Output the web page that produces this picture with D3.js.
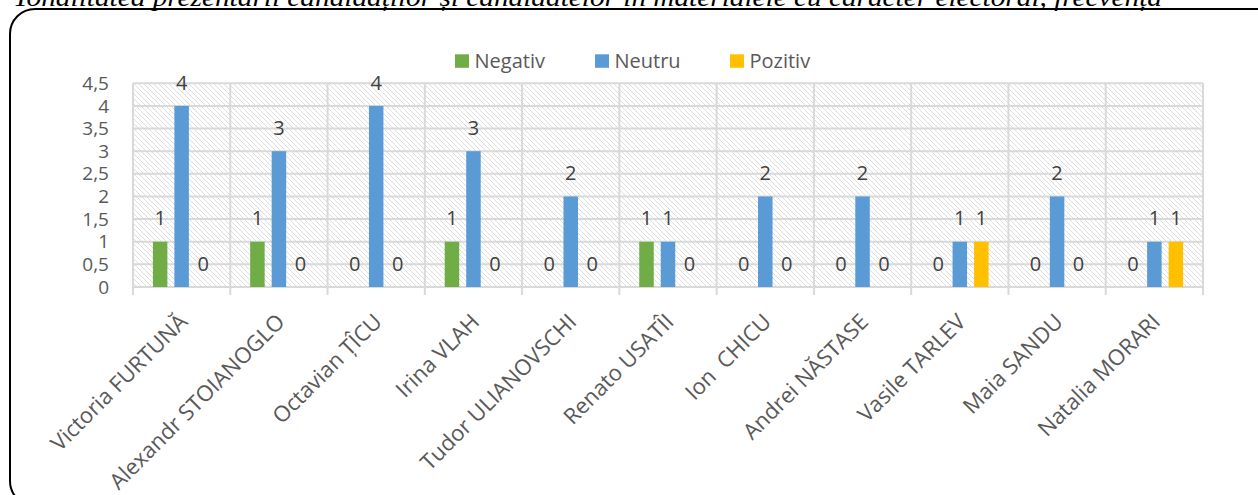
<!DOCTYPE html>
<html><head><meta charset="utf-8">
<script src="https://cdn.jsdelivr.net/npm/d3@7"></script>
<style>html,body{margin:0;padding:0;background:#fff;overflow:hidden}</style>
</head><body>
<svg id="c" width="1258" height="495"></svg>
<script>
const titleText = "Tonalitatea prezentării candidaților și candidatelor în materialele cu caracter electoral, frecvența";
const categories = ["Victoria FURTUNĂ","Alexandr STOIANOGLO","Octavian ȚÎCU","Irina VLAH","Tudor ULIANOVSCHI","Renato USATÎI","Ion  CHICU","Andrei NĂSTASE","Vasile TARLEV","Maia SANDU","Natalia MORARI"];
const seriesNames = ["Negativ","Neutru","Pozitiv"];
const negativ = [1,1,0,1,0,1,0,0,0,0,0];
const neutru  = [4,3,4,3,2,1,2,2,1,2,1];
const pozitiv = [0,0,0,0,0,0,0,0,1,0,1];
const yTicks = [0,0.5,1,1.5,2,2.5,3,3.5,4,4.5];
const colors = ["#70AD47","#5B9BD5","#FFC000"];

const seriesValues = [negativ, neutru, pozitiv];
const svg = d3.select("#c");
const L = 133, R = 1203, T = 83.3, B = 287;

// hatch pattern
const defs = svg.append("defs");
const pat = defs.append("pattern").attr("id","hatch").attr("patternUnits","userSpaceOnUse")
  .attr("width",5).attr("height",5);
pat.append("rect").attr("width",5).attr("height",5).attr("fill","#fff");
pat.append("path").attr("d","M-1,-1 L6,6 M-1,4 L1,6 M4,-1 L6,1")
  .attr("stroke","#dedede").attr("stroke-width",1);

// frame
svg.append("rect").attr("x",10).attr("y",9).attr("width",1275).attr("height",497)
  .attr("rx",25).attr("ry",25).attr("fill","none").attr("stroke","#000").attr("stroke-width",2);

// title (cropped at top, as in the reference)
svg.append("text").attr("x",13).attr("y",6).attr("textLength",1149).attr("lengthAdjust","spacingAndGlyphs")
  .attr("font-family","'Liberation Serif', serif").attr("font-style","italic").attr("font-size",25)
  .attr("fill","#000").text(titleText);

const x0 = d3.scaleBand().domain(categories).range([L,R]).padding(0);
const x1 = d3.scaleBand().domain(seriesNames).range([0,x0.bandwidth()]).paddingInner(0.3256).paddingOuter(0.925);
const y = d3.scaleLinear().domain([0,4.5]).range([B,T]);

// plot background
svg.append("rect").attr("x",L).attr("y",T).attr("width",R-L).attr("height",B-T).attr("fill","url(#hatch)");

// horizontal gridlines
svg.append("g").selectAll("line").data(yTicks).join("line")
  .attr("x1",L).attr("x2",R).attr("y1",d=>y(d)).attr("y2",d=>y(d))
  .attr("stroke","#d9d9d9").attr("stroke-width",2);

// vertical category lines + ticks
const bounds = categories.map(c=>x0(c)).concat([R]);
svg.append("g").selectAll("line").data(bounds).join("line")
  .attr("x1",d=>d).attr("x2",d=>d).attr("y1",T).attr("y2",B+8)
  .attr("stroke","#d9d9d9").attr("stroke-width",2);

// y axis labels
const yAxis = d3.axisLeft(y).tickValues(yTicks).tickSize(0).tickPadding(0)
  .tickFormat(d=>String(d).replace(".",","));
const ga = svg.append("g").attr("transform",`translate(109,0)`).call(yAxis);
ga.select(".domain").remove();
ga.selectAll("text").attr("font-family","'Open Sans', sans-serif").attr("font-size",19).attr("fill","#595959");

// bars
const data = [];
categories.forEach((c,i)=>seriesNames.forEach((s,j)=>data.push({c,s,j,v:seriesValues[j][i]})));
svg.append("g").selectAll("rect").data(data.filter(d=>d.v>0)).join("rect")
  .attr("x",d=>x0(d.c)+x1(d.s)).attr("width",x1.bandwidth())
  .attr("y",d=>y(d.v)).attr("height",d=>B-y(d.v))
  .attr("fill",d=>colors[d.j]);

// data labels
svg.append("g").selectAll("text").data(data).join("text")
  .attr("x",d=>x0(d.c)+x1(d.s)+x1.bandwidth()/2).attr("y",d=>y(d.v)-23.5).attr("dy","0.36em")
  .attr("text-anchor","middle").attr("font-family","'Open Sans', sans-serif").attr("font-size",20)
  .attr("fill","#404040").text(d=>d.v);

// category labels
svg.append("g").selectAll("text").data(categories).join("text")
  .attr("transform",d=>`translate(${x0(d)+x0.bandwidth()/2-4},${312}) rotate(-45)`)
  .attr("dy","0.72em").attr("text-anchor","end")
  .attr("font-family","'Open Sans', sans-serif").attr("font-size",22).attr("fill","#595959")
  .attr("xml:space","preserve").style("white-space","pre").text(d=>d);

// legend
const lx = [455,595,730];
const lg = svg.append("g").selectAll("g").data(seriesNames).join("g")
  .attr("transform",(d,i)=>`translate(${lx[i]},54.3)`);
lg.append("rect").attr("width",14).attr("height",13.5).attr("fill",(d,i)=>colors[i]);
lg.append("text").attr("x",19.5).attr("y",13.7).attr("font-family","'Open Sans', sans-serif")
  .attr("font-size",20).attr("fill","#595959").text(d=>d);
</script>
</body></html>
